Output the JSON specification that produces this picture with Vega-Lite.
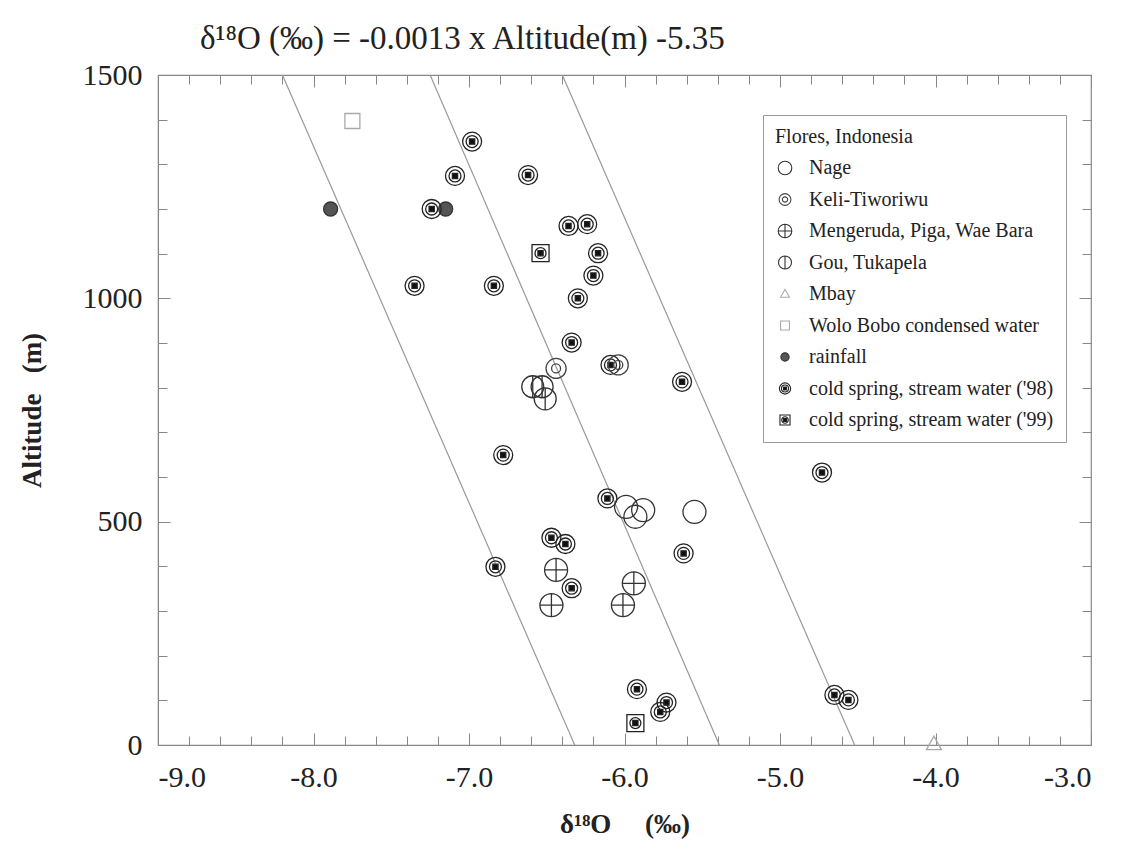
{
  "$schema": "https://vega.github.io/schema/vega-lite/v6.json",
  "width": 933,
  "height": 670,
  "autosize": {"type": "none"},
  "padding": {"left": 158, "top": 75, "right": 33, "bottom": 105},
  "background": "white",
  "title": {
    "text": "δ¹⁸O (‰) = -0.0013 x Altitude(m) -5.35",
    "anchor": "start",
    "frame": "group",
    "dx": 42,
    "offset": 4,
    "font": "Liberation Serif",
    "fontSize": 33,
    "fontWeight": "normal",
    "color": "#222"
  },
  "config": {
    "view": {"stroke": "#888", "strokeWidth": 1.2},
    "axis": {
      "grid": false,
      "domainColor": "#888",
      "tickColor": "#888",
      "labelFont": "Liberation Serif",
      "titleFont": "Liberation Serif",
      "labelColor": "#222",
      "titleColor": "#222"
    }
  },
  "datasets": {
    "lines": [
      {"line": "a", "d18O": -6.32, "alt": 0},
      {"line": "a", "d18O": -8.20, "alt": 1500},
      {"line": "b", "d18O": -5.39, "alt": 0},
      {"line": "b", "d18O": -7.25, "alt": 1500},
      {"line": "c", "d18O": -4.52, "alt": 0},
      {"line": "c", "d18O": -6.40, "alt": 1500}
    ],
    "points": [
      {"type": "Wolo Bobo condensed water", "d18O": -7.75, "alt": 1397},
      {"type": "rainfall", "d18O": -7.89, "alt": 1200},
      {"type": "rainfall", "d18O": -7.15, "alt": 1200},
      {"type": "cold spring, stream water ('98)", "d18O": -7.24, "alt": 1200},
      {"type": "cold spring, stream water ('98)", "d18O": -6.98, "alt": 1351},
      {"type": "cold spring, stream water ('98)", "d18O": -7.09, "alt": 1274},
      {"type": "cold spring, stream water ('98)", "d18O": -6.62, "alt": 1276},
      {"type": "cold spring, stream water ('98)", "d18O": -6.36, "alt": 1162},
      {"type": "cold spring, stream water ('98)", "d18O": -6.24, "alt": 1166},
      {"type": "cold spring, stream water ('98)", "d18O": -6.17, "alt": 1101},
      {"type": "cold spring, stream water ('98)", "d18O": -6.20, "alt": 1051},
      {"type": "cold spring, stream water ('98)", "d18O": -6.30, "alt": 1000},
      {"type": "cold spring, stream water ('98)", "d18O": -7.35, "alt": 1028},
      {"type": "cold spring, stream water ('98)", "d18O": -6.84, "alt": 1028},
      {"type": "cold spring, stream water ('98)", "d18O": -6.34, "alt": 901},
      {"type": "cold spring, stream water ('98)", "d18O": -6.09, "alt": 851},
      {"type": "cold spring, stream water ('98)", "d18O": -5.63, "alt": 813},
      {"type": "cold spring, stream water ('98)", "d18O": -6.78, "alt": 649},
      {"type": "cold spring, stream water ('98)", "d18O": -6.11, "alt": 552},
      {"type": "cold spring, stream water ('98)", "d18O": -5.62, "alt": 429},
      {"type": "cold spring, stream water ('98)", "d18O": -6.47, "alt": 464},
      {"type": "cold spring, stream water ('98)", "d18O": -6.38, "alt": 450},
      {"type": "cold spring, stream water ('98)", "d18O": -6.34, "alt": 351},
      {"type": "cold spring, stream water ('98)", "d18O": -6.83, "alt": 399},
      {"type": "cold spring, stream water ('98)", "d18O": -5.92, "alt": 125},
      {"type": "cold spring, stream water ('98)", "d18O": -5.73, "alt": 95},
      {"type": "cold spring, stream water ('98)", "d18O": -5.77, "alt": 74},
      {"type": "cold spring, stream water ('98)", "d18O": -4.73, "alt": 610},
      {"type": "cold spring, stream water ('98)", "d18O": -4.65, "alt": 112},
      {"type": "cold spring, stream water ('98)", "d18O": -4.56, "alt": 101},
      {"type": "cold spring, stream water ('99)", "d18O": -6.54, "alt": 1101},
      {"type": "cold spring, stream water ('99)", "d18O": -5.93, "alt": 49},
      {"type": "Keli-Tiworiwu", "d18O": -6.44, "alt": 843},
      {"type": "Keli-Tiworiwu", "d18O": -6.04, "alt": 851},
      {"type": "Gou, Tukapela", "d18O": -6.59, "alt": 802},
      {"type": "Gou, Tukapela", "d18O": -6.53, "alt": 802},
      {"type": "Gou, Tukapela", "d18O": -6.51, "alt": 775},
      {"type": "Nage", "d18O": -5.99, "alt": 533},
      {"type": "Nage", "d18O": -5.88, "alt": 526},
      {"type": "Nage", "d18O": -5.93, "alt": 511},
      {"type": "Nage", "d18O": -5.55, "alt": 522},
      {"type": "Mengeruda, Piga, Wae Bara", "d18O": -6.44, "alt": 392},
      {"type": "Mengeruda, Piga, Wae Bara", "d18O": -6.47, "alt": 313},
      {"type": "Mengeruda, Piga, Wae Bara", "d18O": -5.94, "alt": 362},
      {"type": "Mengeruda, Piga, Wae Bara", "d18O": -6.01, "alt": 313},
      {"type": "Mbay", "d18O": -4.01, "alt": 2}
    ]
  },
  "layer": [
    {
      "data": {"name": "lines"},
      "mark": {"type": "line", "stroke": "#999", "strokeWidth": 1.2},
      "encoding": {
        "x": {
          "field": "d18O", "type": "quantitative",
          "scale": {"domain": [-9, -3], "nice": false, "zero": false},
          "axis": {
            "orient": "top", "title": null, "labels": false, "domain": false,
            "values": [-9,-8.8,-8.6,-8.4,-8.2,-8,-7.8,-7.6,-7.4,-7.2,-7,-6.8,-6.6,-6.4,-6.2,-6,-5.8,-5.6,-5.4,-5.2,-5,-4.8,-4.6,-4.4,-4.2,-4,-3.8,-3.6,-3.4,-3.2,-3],
            "tickSize": {"condition": {"test": "abs(datum.value - round(datum.value)) < 0.001", "value": -12}, "value": -9}
          }
        },
        "y": {
          "field": "alt", "type": "quantitative",
          "scale": {"domain": [0, 1500], "nice": false, "zero": false},
          "axis": {
            "orient": "right", "title": null, "labels": false, "domain": false,
            "values": [0,100,200,300,400,500,600,700,800,900,1000,1100,1200,1300,1400,1500],
            "tickSize": {"condition": {"test": "datum.value % 500 === 0", "value": -12}, "value": -9}
          }
        },
        "detail": {"field": "line"}
      }
    },
    {
      "data": {"name": "points"},
      "mark": {"type": "point", "opacity": 1, "strokeWidth": 1.3, "size": 400},
      "encoding": {
        "x": {
          "field": "d18O", "type": "quantitative",
          "axis": {
            "orient": "bottom",
            "title": "δ¹⁸O\u00a0\u00a0\u00a0\u00a0\u00a0(‰)",
            "titleFontSize": 27, "titleFontWeight": "bold", "titlePadding": 19,
            "labelFontSize": 30, "labelPadding": 29,
            "values": [-9,-8.8,-8.6,-8.4,-8.2,-8,-7.8,-7.6,-7.4,-7.2,-7,-6.8,-6.6,-6.4,-6.2,-6,-5.8,-5.6,-5.4,-5.2,-5,-4.8,-4.6,-4.4,-4.2,-4,-3.8,-3.6,-3.4,-3.2,-3],
            "labelExpr": "abs(datum.value - round(datum.value)) < 0.001 ? '-' + format(abs(datum.value), '.1f') : ''",
            "tickSize": {"condition": {"test": "abs(datum.value - round(datum.value)) < 0.001", "value": -12}, "value": -9}
          }
        },
        "y": {
          "field": "alt", "type": "quantitative",
          "axis": {
            "orient": "left",
            "title": "Altitude\u00a0\u00a0\u00a0(m)",
            "titleFontSize": 27, "titleFontWeight": "bold", "titlePadding": 36,
            "labelFontSize": 30, "labelPadding": 28,
            "values": [0,100,200,300,400,500,600,700,800,900,1000,1100,1200,1300,1400,1500],
            "labelExpr": "datum.value % 500 === 0 ? datum.value : ''",
            "tickSize": {"condition": {"test": "datum.value % 500 === 0", "value": -12}, "value": -9}
          }
        },
        "shape": {
          "field": "type", "type": "nominal",
          "scale": {
            "domain": ["Nage", "Keli-Tiworiwu", "Mengeruda, Piga, Wae Bara", "Gou, Tukapela", "Mbay", "Wolo Bobo condensed water", "rainfall", "cold spring, stream water ('98)", "cold spring, stream water ('99)"],
            "range": [
              "M1.15,0A1.15,1.15 0 1,1 -1.15,0A1.15,1.15 0 1,1 1.15,0Z",
              "M1,0A1,1 0 1,1 -1,0A1,1 0 1,1 1,0ZM0.45,0A0.45,0.45 0 1,1 -0.45,0A0.45,0.45 0 1,1 0.45,0Z",
              "M1.15,0A1.15,1.15 0 1,1 -1.15,0A1.15,1.15 0 1,1 1.15,0ZM-1.15,0L1.15,0M0,-1.15L0,1.15",
              "M1.1,0A1.1,1.1 0 1,1 -1.1,0A1.1,1.1 0 1,1 1.1,0ZM0,-1.1L0,1.1",
              "M0,-0.8L0.75,0.55L-0.75,0.55Z",
              "M-0.75,-0.75L0.75,-0.75L0.75,0.75L-0.75,0.75Z",
              "M0.7,0A0.7,0.7 0 1,1 -0.7,0A0.7,0.7 0 1,1 0.7,0Z",
              "M0.95,0A0.95,0.95 0 1,1 -0.95,0A0.95,0.95 0 1,1 0.95,0ZM0.95,0A0.95,0.95 0 1,0 -0.95,0A0.95,0.95 0 1,0 0.95,0ZM0.6,0A0.6,0.6 0 1,1 -0.6,0A0.6,0.6 0 1,1 0.6,0ZM0.6,0A0.6,0.6 0 1,0 -0.6,0A0.6,0.6 0 1,0 0.6,0ZM-0.26,-0.26L0.26,-0.26L0.26,0.26L-0.26,0.26Z",
              "M-0.85,-0.85L0.85,-0.85L0.85,0.85L-0.85,0.85ZM-0.85,-0.85L-0.85,0.85L0.85,0.85L0.85,-0.85ZM0.55,0A0.55,0.55 0 1,1 -0.55,0A0.55,0.55 0 1,1 0.55,0ZM0.55,0A0.55,0.55 0 1,0 -0.55,0A0.55,0.55 0 1,0 0.55,0ZM-0.26,-0.26L0.26,-0.26L0.26,0.26L-0.26,0.26Z"
            ]
          },
          "legend": {
            "title": "Flores, Indonesia",
            "orient": "none", "legendX": 605, "legendY": 40,
            "padding": 12, "strokeColor": "#999", "fillColor": "white",
            "titleFont": "Liberation Serif", "titleFontSize": 20, "titleFontWeight": "normal", "titleColor": "#222", "titlePadding": 11,
            "labelFont": "Liberation Serif", "labelFontSize": 20, "labelColor": "#222", "labelOffset": 14, "labelLimit": 400,
            "symbolSize": 140, "symbolStrokeWidth": 1.1, "rowPadding": 11.5
          }
        },
        "stroke": {
          "field": "type", "type": "nominal",
          "scale": {
            "domain": ["Nage", "Keli-Tiworiwu", "Mengeruda, Piga, Wae Bara", "Gou, Tukapela", "Mbay", "Wolo Bobo condensed water", "rainfall", "cold spring, stream water ('98)", "cold spring, stream water ('99)"],
            "range": ["#333", "#444", "#333", "#333", "#aaa", "#aaa", "#333", "#222", "#222"]
          },
          "legend": {"title": "Flores, Indonesia"}
        },
        "fill": {
          "field": "type", "type": "nominal",
          "scale": {
            "domain": ["Nage", "Keli-Tiworiwu", "Mengeruda, Piga, Wae Bara", "Gou, Tukapela", "Mbay", "Wolo Bobo condensed water", "rainfall", "cold spring, stream water ('98)", "cold spring, stream water ('99)"],
            "range": ["transparent", "transparent", "transparent", "transparent", "transparent", "transparent", "#555", "#111", "#111"]
          },
          "legend": {"title": "Flores, Indonesia"}
        }
      }
    }
  ],
  "resolve": {"axis": {"x": "independent", "y": "independent"}}
}
